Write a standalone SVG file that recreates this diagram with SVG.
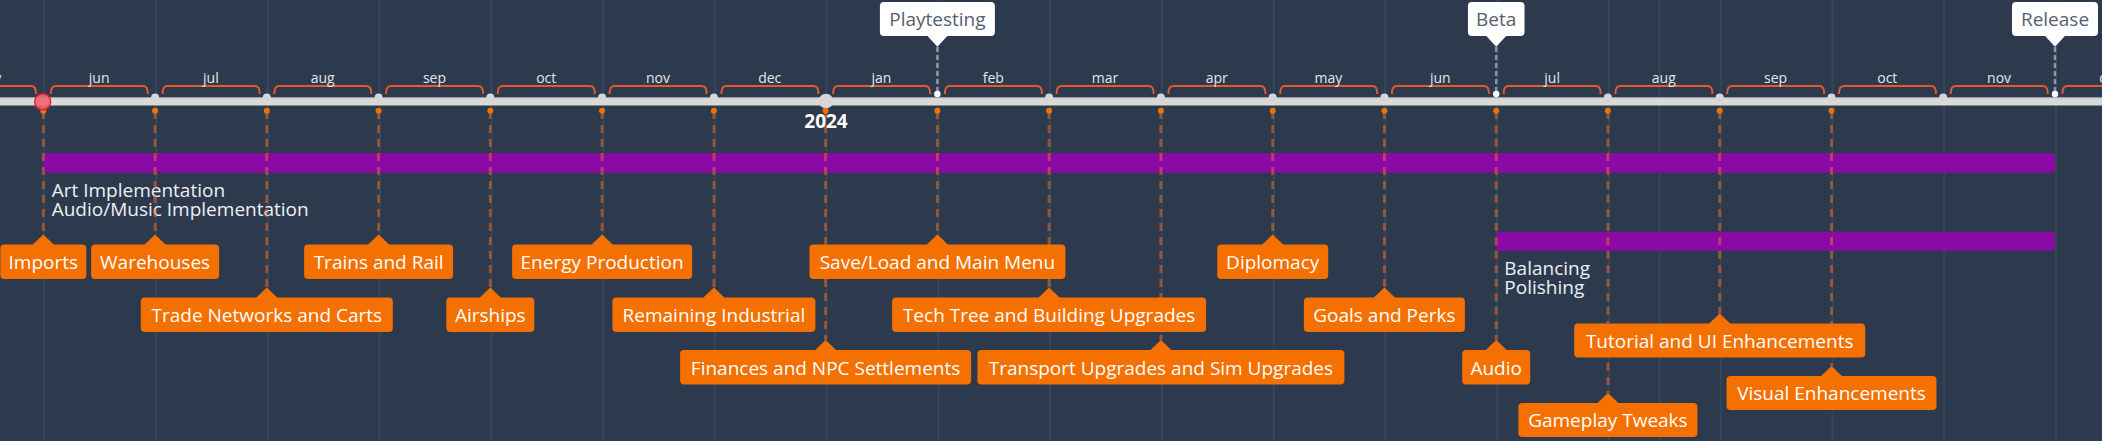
<svg xmlns="http://www.w3.org/2000/svg" xmlns:xlink="http://www.w3.org/1999/xlink" width="2102" height="441" viewBox="0 0 2102 441">
<style>
text{font-family:"Open Sans","Noto Sans","DejaVu Sans",sans-serif}
.grid{stroke:#37455a;stroke-width:2}
.month{font-size:14px;fill:#e2e6ec;text-anchor:middle}
.bracket{fill:none;stroke:#e8592a;stroke-width:2}
.gdot{fill:#d6d6d6}
.odot{fill:#f57000}
.conn{stroke:#f37021;stroke-opacity:0.5;stroke-width:3;stroke-dasharray:8 6;fill:none}
.mconn{stroke:#8d96a3;stroke-width:2.5;stroke-dasharray:5 3;fill:none}
.box{fill:#f47000}
.btext{font-size:19px;fill:#ffffff;text-anchor:middle}
.call{fill:#ffffff}
.ctext{font-size:19px;fill:#566070;text-anchor:middle}
.bar{fill:#8b0aa6}
.blabel{font-size:19px;fill:#eef0f4}
</style>
<defs>
<path id="br" d="M7.5,94 C7.5,88.5 8.5,86 13,86 H99 C103.5,86 104.5,88.5 104.5,94"/>
</defs>
<rect x="0" y="0" width="2102" height="441" fill="#2d3a4e"/>
<g id="grid">
<line class="grid" x1="44.3" y1="0" x2="44.3" y2="441"/>
<line class="grid" x1="156.1" y1="0" x2="156.1" y2="441"/>
<line class="grid" x1="267.8" y1="0" x2="267.8" y2="441"/>
<line class="grid" x1="379.6" y1="0" x2="379.6" y2="441"/>
<line class="grid" x1="491.3" y1="0" x2="491.3" y2="441"/>
<line class="grid" x1="603.1" y1="0" x2="603.1" y2="441"/>
<line class="grid" x1="714.9" y1="0" x2="714.9" y2="441"/>
<line class="grid" x1="826.6" y1="0" x2="826.6" y2="441"/>
<line class="grid" x1="938.4" y1="0" x2="938.4" y2="441"/>
<line class="grid" x1="1050.1" y1="0" x2="1050.1" y2="441"/>
<line class="grid" x1="1161.9" y1="0" x2="1161.9" y2="441"/>
<line class="grid" x1="1273.7" y1="0" x2="1273.7" y2="441"/>
<line class="grid" x1="1385.4" y1="0" x2="1385.4" y2="441"/>
<line class="grid" x1="1497.2" y1="0" x2="1497.2" y2="441"/>
<line class="grid" x1="1608.9" y1="0" x2="1608.9" y2="441"/>
<line class="grid" x1="1659.5" y1="0" x2="1659.5" y2="441"/>
<line class="grid" x1="1720.7" y1="0" x2="1720.7" y2="441"/>
<line class="grid" x1="1832.5" y1="0" x2="1832.5" y2="441"/>
<line class="grid" x1="1944.2" y1="0" x2="1944.2" y2="441"/>
<line class="grid" x1="2056" y1="0" x2="2056" y2="441"/>
</g>
<g id="bars">
<g id="bar-art">
<rect class="bar" x="43.3" y="153.3" width="2011.7" height="19.4" rx="3"/>
<text class="blabel" x="51.7" y="197.3">Art Implementation</text>
<text class="blabel" x="51.7" y="216">Audio/Music Implementation</text>
</g>
<g id="bar-balancing">
<rect class="bar" x="1496.2" y="232" width="558.8" height="18.7" rx="3"/>
<text class="blabel" x="1504.3" y="275">Balancing</text>
<text class="blabel" x="1504.3" y="293.5">Polishing</text>
</g>
</g>
<g id="connectors">
<line class="conn" x1="43.3" y1="111" x2="43.3" y2="234.5"/>
<line class="conn" x1="155.1" y1="111" x2="155.1" y2="234.5"/>
<line class="conn" x1="266.8" y1="111" x2="266.8" y2="287.5"/>
<line class="conn" x1="378.6" y1="111" x2="378.6" y2="234.5"/>
<line class="conn" x1="490.3" y1="111" x2="490.3" y2="287.5"/>
<line class="conn" x1="602.1" y1="111" x2="602.1" y2="234.5"/>
<line class="conn" x1="713.9" y1="111" x2="713.9" y2="287.5"/>
<line class="conn" x1="825.6" y1="111" x2="825.6" y2="340"/>
<line class="conn" x1="937.4" y1="111" x2="937.4" y2="234.5"/>
<line class="conn" x1="1049.1" y1="111" x2="1049.1" y2="287.5"/>
<line class="conn" x1="1160.9" y1="111" x2="1160.9" y2="340"/>
<line class="conn" x1="1272.7" y1="111" x2="1272.7" y2="234.5"/>
<line class="conn" x1="1384.4" y1="111" x2="1384.4" y2="287.5"/>
<line class="conn" x1="1496.2" y1="111" x2="1496.2" y2="340"/>
<line class="conn" x1="1607.9" y1="111" x2="1607.9" y2="393"/>
<line class="conn" x1="1719.7" y1="111" x2="1719.7" y2="313.5"/>
<line class="conn" x1="1831.5" y1="111" x2="1831.5" y2="366"/>
<line class="mconn" x1="937.4" y1="47" x2="937.4" y2="93"/>
<line class="mconn" x1="1496.2" y1="47" x2="1496.2" y2="93"/>
<line class="mconn" x1="2055" y1="47" x2="2055" y2="93"/>
</g>
<g id="axis">
<rect x="0" y="97.5" width="2102" height="8" fill="#d9d9d9"/>
<line x1="0" y1="97.8" x2="2102" y2="97.8" stroke="#aab0b8" stroke-width="0.8"/>
<circle class="gdot" cx="155.1" cy="97.5" r="4"/>
<circle class="gdot" cx="266.8" cy="97.5" r="4"/>
<circle class="gdot" cx="378.6" cy="97.5" r="4"/>
<circle class="gdot" cx="490.3" cy="97.5" r="4"/>
<circle class="gdot" cx="602.1" cy="97.5" r="4"/>
<circle class="gdot" cx="713.9" cy="97.5" r="4"/>
<circle class="gdot" cx="1049.1" cy="97.5" r="4"/>
<circle class="gdot" cx="1160.9" cy="97.5" r="4"/>
<circle class="gdot" cx="1272.7" cy="97.5" r="4"/>
<circle class="gdot" cx="1384.4" cy="97.5" r="4"/>
<circle class="gdot" cx="1607.9" cy="97.5" r="4"/>
<circle class="gdot" cx="1719.7" cy="97.5" r="4"/>
<circle class="gdot" cx="1831.5" cy="97.5" r="4"/>
<circle class="gdot" cx="1943.2" cy="97.5" r="4"/>
<circle fill="#ffffff" cx="937.4" cy="94" r="3.2"/>
<circle fill="#ffffff" cx="1496.2" cy="94" r="3.2"/>
<circle fill="#ffffff" cx="2055" cy="94" r="3.2"/>
<circle class="gdot" cx="826" cy="101" r="7.3"/>
<text x="826" y="128.3" text-anchor="middle" font-size="19" font-weight="bold" fill="#ffffff">2024</text>
<circle class="odot" cx="43.3" cy="110.7" r="3"/>
<circle class="odot" cx="155.1" cy="110.7" r="3"/>
<circle class="odot" cx="266.8" cy="110.7" r="3"/>
<circle class="odot" cx="378.6" cy="110.7" r="3"/>
<circle class="odot" cx="490.3" cy="110.7" r="3"/>
<circle class="odot" cx="602.1" cy="110.7" r="3"/>
<circle class="odot" cx="713.9" cy="110.7" r="3"/>
<circle class="odot" cx="825.6" cy="110.7" r="3"/>
<circle class="odot" cx="937.4" cy="110.7" r="3"/>
<circle class="odot" cx="1049.1" cy="110.7" r="3"/>
<circle class="odot" cx="1160.9" cy="110.7" r="3"/>
<circle class="odot" cx="1272.7" cy="110.7" r="3"/>
<circle class="odot" cx="1384.4" cy="110.7" r="3"/>
<circle class="odot" cx="1496.2" cy="110.7" r="3"/>
<circle class="odot" cx="1607.9" cy="110.7" r="3"/>
<circle class="odot" cx="1719.7" cy="110.7" r="3"/>
<circle class="odot" cx="1831.5" cy="110.7" r="3"/>
<circle cx="42.7" cy="101.7" r="8" fill="#ef6872" fill-opacity="0.92" stroke="#e81c2e" stroke-width="1.5"/>
</g>
<g id="months">
<use href="#br" xlink:href="#br" class="bracket" x="-68.5"/>
<use href="#br" xlink:href="#br" class="bracket" x="43.3"/>
<use href="#br" xlink:href="#br" class="bracket" x="155.1"/>
<use href="#br" xlink:href="#br" class="bracket" x="266.8"/>
<use href="#br" xlink:href="#br" class="bracket" x="378.6"/>
<use href="#br" xlink:href="#br" class="bracket" x="490.3"/>
<use href="#br" xlink:href="#br" class="bracket" x="602.1"/>
<use href="#br" xlink:href="#br" class="bracket" x="713.9"/>
<use href="#br" xlink:href="#br" class="bracket" x="825.6"/>
<use href="#br" xlink:href="#br" class="bracket" x="937.4"/>
<use href="#br" xlink:href="#br" class="bracket" x="1049.1"/>
<use href="#br" xlink:href="#br" class="bracket" x="1160.9"/>
<use href="#br" xlink:href="#br" class="bracket" x="1272.7"/>
<use href="#br" xlink:href="#br" class="bracket" x="1384.4"/>
<use href="#br" xlink:href="#br" class="bracket" x="1496.2"/>
<use href="#br" xlink:href="#br" class="bracket" x="1607.9"/>
<use href="#br" xlink:href="#br" class="bracket" x="1719.7"/>
<use href="#br" xlink:href="#br" class="bracket" x="1831.5"/>
<use href="#br" xlink:href="#br" class="bracket" x="1943.2"/>
<use href="#br" xlink:href="#br" class="bracket" x="2055"/>
<text class="month" x="-12.6" y="82.7">may</text>
<text class="month" x="99.2" y="82.7">jun</text>
<text class="month" x="210.9" y="82.7">jul</text>
<text class="month" x="322.7" y="82.7">aug</text>
<text class="month" x="434.5" y="82.7">sep</text>
<text class="month" x="546.2" y="82.7">oct</text>
<text class="month" x="658" y="82.7">nov</text>
<text class="month" x="769.7" y="82.7">dec</text>
<text class="month" x="881.5" y="82.7">jan</text>
<text class="month" x="993.3" y="82.7">feb</text>
<text class="month" x="1105" y="82.7">mar</text>
<text class="month" x="1216.8" y="82.7">apr</text>
<text class="month" x="1328.5" y="82.7">may</text>
<text class="month" x="1440.3" y="82.7">jun</text>
<text class="month" x="1552.1" y="82.7">jul</text>
<text class="month" x="1663.8" y="82.7">aug</text>
<text class="month" x="1775.6" y="82.7">sep</text>
<text class="month" x="1887.3" y="82.7">oct</text>
<text class="month" x="1999.1" y="82.7">nov</text>
<text class="month" x="2110.9" y="82.7">dec</text>
</g>
<g id="milestones">
<g id="ms-playtesting">
<rect class="call" x="879.9" y="2" width="115" height="34" rx="4"/>
<polygon class="call" points="926.6,35 937.4,46.7 948.2,35"/>
<text class="ctext" x="937.4" y="26">Playtesting</text>
</g>
<g id="ms-beta">
<rect class="call" x="1467.9" y="2" width="56.6" height="34" rx="4"/>
<polygon class="call" points="1485.4,35 1496.2,46.7 1507,35"/>
<text class="ctext" x="1496.2" y="26">Beta</text>
</g>
<g id="ms-release">
<rect class="call" x="2012" y="2" width="86" height="34" rx="4"/>
<polygon class="call" points="2044.2,35 2055,46.7 2065.8,35"/>
<text class="ctext" x="2055" y="26">Release</text>
</g>
</g>
<g id="tasks">
<g id="t-imports">
<polygon class="box" points="32.3,245 43.3,234.5 54.3,245"/>
<rect class="box" x="0.3" y="244.5" width="86" height="34.5" rx="4"/>
<text class="btext" x="43.3" y="269">Imports</text>
</g>
<g id="t-warehouses">
<polygon class="box" points="144.1,245 155.1,234.5 166.1,245"/>
<rect class="box" x="91.1" y="244.5" width="128" height="34.5" rx="4"/>
<text class="btext" x="155.1" y="269">Warehouses</text>
</g>
<g id="t-trade">
<polygon class="box" points="255.8,298 266.8,287.5 277.8,298"/>
<rect class="box" x="140.8" y="297.5" width="252" height="34.5" rx="4"/>
<text class="btext" x="266.8" y="322">Trade Networks and Carts</text>
</g>
<g id="t-trains">
<polygon class="box" points="367.6,245 378.6,234.5 389.6,245"/>
<rect class="box" x="304.1" y="244.5" width="149" height="34.5" rx="4"/>
<text class="btext" x="378.6" y="269">Trains and Rail</text>
</g>
<g id="t-airships">
<polygon class="box" points="479.3,298 490.3,287.5 501.3,298"/>
<rect class="box" x="446.3" y="297.5" width="88" height="34.5" rx="4"/>
<text class="btext" x="490.3" y="322">Airships</text>
</g>
<g id="t-energy">
<polygon class="box" points="591.1,245 602.1,234.5 613.1,245"/>
<rect class="box" x="512.1" y="244.5" width="180" height="34.5" rx="4"/>
<text class="btext" x="602.1" y="269">Energy Production</text>
</g>
<g id="t-remaining">
<polygon class="box" points="702.9,298 713.9,287.5 724.9,298"/>
<rect class="box" x="612.4" y="297.5" width="203" height="34.5" rx="4"/>
<text class="btext" x="713.9" y="322">Remaining Industrial</text>
</g>
<g id="t-finances">
<polygon class="box" points="814.6,350.5 825.6,340 836.6,350.5"/>
<rect class="box" x="680.1" y="350" width="291" height="34.5" rx="4"/>
<text class="btext" x="825.6" y="374.5">Finances and NPC Settlements</text>
</g>
<g id="t-saveload">
<polygon class="box" points="926.4,245 937.4,234.5 948.4,245"/>
<rect class="box" x="809.4" y="244.5" width="256" height="34.5" rx="4"/>
<text class="btext" x="937.4" y="269">Save/Load and Main Menu</text>
</g>
<g id="t-techtree">
<polygon class="box" points="1038.1,298 1049.1,287.5 1060.1,298"/>
<rect class="box" x="892.1" y="297.5" width="314" height="34.5" rx="4"/>
<text class="btext" x="1049.1" y="322">Tech Tree and Building Upgrades</text>
</g>
<g id="t-transport">
<polygon class="box" points="1149.9,350.5 1160.9,340 1171.9,350.5"/>
<rect class="box" x="977.4" y="350" width="367" height="34.5" rx="4"/>
<text class="btext" x="1160.9" y="374.5">Transport Upgrades and Sim Upgrades</text>
</g>
<g id="t-diplomacy">
<polygon class="box" points="1261.7,245 1272.7,234.5 1283.7,245"/>
<rect class="box" x="1217.2" y="244.5" width="111" height="34.5" rx="4"/>
<text class="btext" x="1272.7" y="269">Diplomacy</text>
</g>
<g id="t-goals">
<polygon class="box" points="1373.4,298 1384.4,287.5 1395.4,298"/>
<rect class="box" x="1303.9" y="297.5" width="161" height="34.5" rx="4"/>
<text class="btext" x="1384.4" y="322">Goals and Perks</text>
</g>
<g id="t-audio">
<polygon class="box" points="1485.2,350.5 1496.2,340 1507.2,350.5"/>
<rect class="box" x="1462.2" y="350" width="68" height="34.5" rx="4"/>
<text class="btext" x="1496.2" y="374.5">Audio</text>
</g>
<g id="t-gameplay">
<polygon class="box" points="1596.9,403.5 1607.9,393 1618.9,403.5"/>
<rect class="box" x="1518.4" y="403" width="179" height="34" rx="4"/>
<text class="btext" x="1607.9" y="427.3">Gameplay Tweaks</text>
</g>
<g id="t-tutorial">
<polygon class="box" points="1708.7,324 1719.7,313.5 1730.7,324"/>
<rect class="box" x="1574.2" y="323.5" width="291" height="34" rx="4"/>
<text class="btext" x="1719.7" y="347.8">Tutorial and UI Enhancements</text>
</g>
<g id="t-visual">
<polygon class="box" points="1820.5,376.5 1831.5,366 1842.5,376.5"/>
<rect class="box" x="1726.5" y="376" width="210" height="34" rx="4"/>
<text class="btext" x="1831.5" y="400.3">Visual Enhancements</text>
</g>
</g>
</svg>
